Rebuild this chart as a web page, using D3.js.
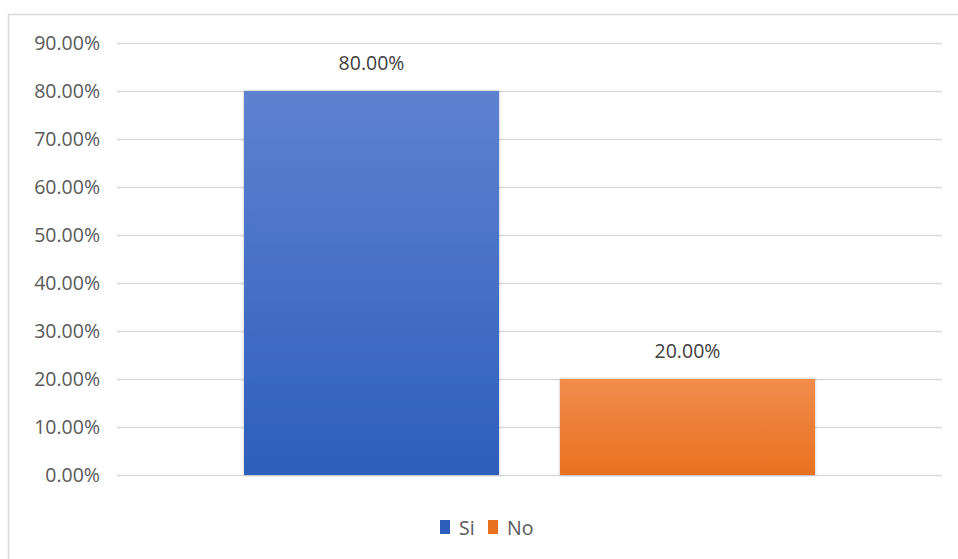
<!DOCTYPE html>
<html><head><meta charset="utf-8">
<script src="https://cdn.jsdelivr.net/npm/d3@7"></script>
<style>body{margin:0;background:#fff}svg{display:block}</style>
</head><body>
<svg id="c" width="958" height="559"></svg>
<script>
const series = ["Si", "No"];
const values = [0.80, 0.20];
const tickValues = [0, 0.1, 0.2, 0.3, 0.4, 0.5, 0.6, 0.7, 0.8, 0.9];
const colorsTop = ["#5E82D0", "#F28C4C"];
const colorsBottom = ["#2D5EBB", "#E8711F"];

(function () {
const svg = d3.select("#c");
const font = "'Open Sans', sans-serif";

svg.append("rect").attr("x", 8.5).attr("y", 14.5).attr("width", 980).attr("height", 580)
  .attr("fill", "#fff").attr("stroke", "#d9d9d9").attr("stroke-width", 1.5);

const pL = 117, pR = 942, pT = 43, pB = 475;
const y = d3.scaleLinear().domain([0, 0.9]).range([pB, pT]);
const x = d3.scaleBand().domain(series).range([pL, pR]).paddingInner(0.193).paddingOuter(0.402);

const defs = svg.append("defs");
series.forEach((s, i) => {
  const g = defs.append("linearGradient").attr("id", "g" + i).attr("x1", 0).attr("y1", 0).attr("x2", 0).attr("y2", 1);
  g.append("stop").attr("offset", "0%").attr("stop-color", colorsTop[i]);
  g.append("stop").attr("offset", "100%").attr("stop-color", colorsBottom[i]);
});
const f = defs.append("filter").attr("id", "sh").attr("x", "-10%").attr("y", "-10%").attr("width", "120%").attr("height", "120%");
f.append("feDropShadow").attr("dx", 0).attr("dy", 0).attr("stdDeviation", 1.5).attr("flood-color", "#000").attr("flood-opacity", 0.25);

const yAxis = d3.axisLeft(y).tickValues(tickValues).tickSize(-(pR - pL))
  .tickFormat(d => (d * 100).toFixed(2) + "%").tickPadding(17);
const ga = svg.append("g").attr("transform", `translate(${pL},0)`).call(yAxis);
ga.select(".domain").remove();
ga.selectAll(".tick line").attr("stroke", "#d9d9d9").attr("stroke-width", 1.3);
ga.selectAll(".tick text").attr("fill", "#595959").style("font-family", font).style("font-size", "19.5px");

svg.selectAll(".bar").data(series).enter().append("rect")
  .attr("x", d => x(d)).attr("width", x.bandwidth())
  .attr("y", (d, i) => y(values[i])).attr("height", (d, i) => y(0) - y(values[i]))
  .attr("fill", (d, i) => `url(#g${i})`).attr("filter", "url(#sh)");

svg.selectAll(".lbl").data(series).enter().append("text")
  .attr("x", d => x(d) + x.bandwidth() / 2).attr("y", (d, i) => y(values[i]) - 21)
  .attr("text-anchor", "middle").attr("fill", "#404040")
  .style("font-family", font).style("font-size", "19.5px")
  .text((d, i) => (values[i] * 100).toFixed(2) + "%");

const leg = svg.append("g");
const legX = [440, 488];
series.forEach((s, i) => {
  leg.append("rect").attr("x", legX[i]).attr("y", 520).attr("width", 10).attr("height", 14).attr("fill", colorsBottom[i]);
  leg.append("text").attr("x", legX[i] + 19).attr("y", 535).attr("fill", "#595959")
    .style("font-family", font).style("font-size", "19.5px").text(s);
});
})();
</script>
</body></html>
